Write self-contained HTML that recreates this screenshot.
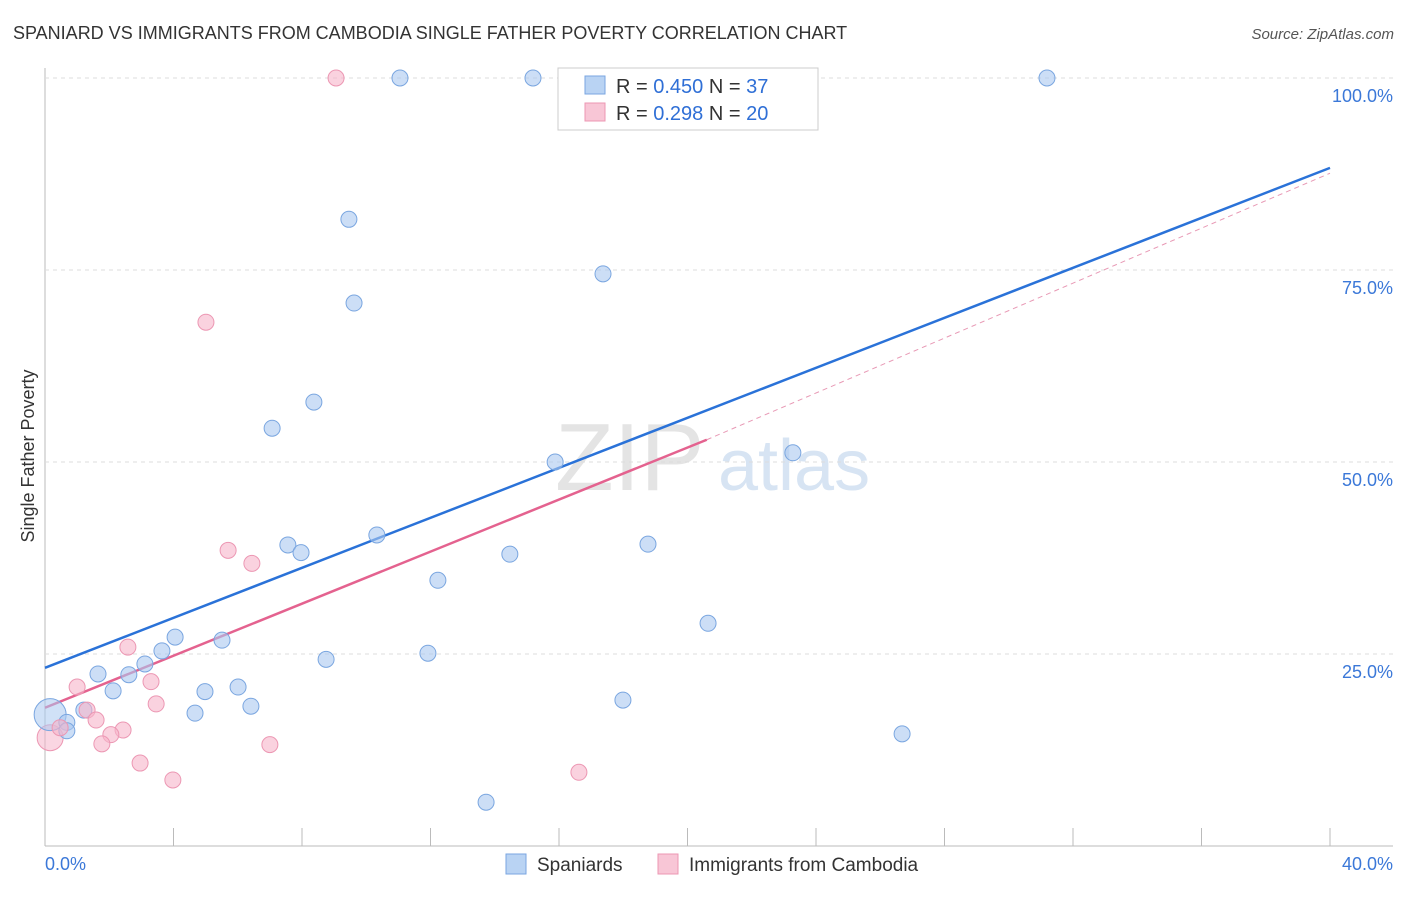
<!DOCTYPE html>
<html><head><meta charset="utf-8"><style>
body{margin:0;background:#fff;font-family:"Liberation Sans",sans-serif;}
svg text{font-family:"Liberation Sans",sans-serif;}
</style></head><body>
<svg id="chart" width="1406" height="892" viewBox="0 0 1406 892" xmlns="http://www.w3.org/2000/svg">
<text x="13" y="39" font-size="18" fill="#333">SPANIARD VS IMMIGRANTS FROM CAMBODIA SINGLE FATHER POVERTY CORRELATION CHART</text>
<text x="1394" y="39" font-size="15" fill="#555" text-anchor="end" font-style="italic">Source: ZipAtlas.com</text>
<text transform="translate(34,456) rotate(-90)" font-size="18" fill="#333" text-anchor="middle">Single Father Poverty</text>
<g>
<text x="555" y="490" font-size="96" fill="#e4e4e4" font-family="Liberation Serif,serif">ZIP</text>
<text x="718" y="490" font-size="72" fill="#d7e4f3">atlas</text>
</g>
<g id="grid"></g>
<g id="lines"></g>
<g id="points"></g>
<g>
<rect x="558" y="68" width="260" height="62" fill="#fff" stroke="#ccc"/>
<rect x="585" y="76" width="20" height="18" fill="#b9d3f3" stroke="#7aa6e0"/>
<text x="616" y="93" font-size="20" fill="#333">R = <tspan fill="#2f6fd6">0.450</tspan>   N = <tspan fill="#2f6fd6">37</tspan></text>
<rect x="585" y="103" width="20" height="18" fill="#f8c6d6" stroke="#ec97b3"/>
<text x="616" y="120" font-size="20" fill="#333">R =  <tspan fill="#2f6fd6">0.298</tspan>   N = <tspan fill="#2f6fd6">20</tspan></text>
</g>
<g>
<rect x="506" y="854" width="20" height="20" fill="#b9d3f3" stroke="#7aa6e0"/>
<text x="537" y="871" font-size="19" fill="#333">Spaniards</text>
<rect x="658" y="854" width="20" height="20" fill="#f8c6d6" stroke="#ec97b3"/>
<text x="689" y="871" font-size="19" fill="#333">Immigrants from Cambodia</text>
</g>
</svg>
<script>
const xTickLabels = ["0.0%","40.0%"];
const yTicks = [25,50,75,100];
const yTickLabels = ["25.0%","50.0%","75.0%","100.0%"];
const blueX = [11.05,15.19,16.97,31.19,9.46,17.37,9.62,8.37,7.07,15.88,23.28,10.33,7.56,7.97,14.47,18.77,12.23,20.64,4.05,5.51,3.64,3.11,8.75,11.92,1.65,2.61,2.12,6.01,4.98,6.41,4.67,17.99,1.21,0.68,0.68,26.68,13.73];
const blueY = [100,100,100,100,81.6,74.5,70.7,57.8,54.4,50.0,51.2,40.5,39.2,38.2,38.0,39.3,34.6,29.0,27.2,26.8,25.4,23.7,24.3,25.1,22.4,22.3,20.2,20.7,20.1,18.2,17.3,19.0,17.7,16.1,15.0,14.6,5.7];
const pinkX = [9.06,5.01,5.70,6.44,2.58,1.0,3.30,3.46,1.31,1.59,2.43,2.05,1.77,7.0,2.96,3.98,16.62,0.47];
const pinkY = [100,68.2,38.5,36.8,25.9,20.7,21.4,18.5,17.7,16.4,15.1,14.5,13.3,13.2,10.8,8.6,9.6,15.4];
const bigBlue = [0.16,17.1];
const bigPink = [0.16,14.1];
const blueLine = [23.2,88.3];
const pinkLine = [18.0,52.9,20.6,87.6];
const NS="http://www.w3.org/2000/svg";
function sx(v){return 45+v/40*1285;}
function sy(v){return 846-v/100*768;}
function mk(tag,attrs,parent){const e=document.createElementNS(NS,tag);for(const k in attrs)e.setAttribute(k,attrs[k]);document.getElementById(parent).appendChild(e);return e;}
let e;
e=mk('line',{x1:45,y1:68,x2:45,y2:846,stroke:'#bbb'},'grid');


e=mk('line',{x1:45,y1:846,x2:1393,y2:846,stroke:'#bbb'},'grid');


for(let i=0;i<=10;i++){e=mk('line',{x1:sx(i*4),y1:828,x2:sx(i*4),y2:846,stroke:'#bbb'},'grid');

}
yTicks.forEach((t,i)=>{
e=mk('line',{x1:45,y1:sy(t),x2:1393,y2:sy(t),stroke:'#ddd','stroke-dasharray':'4,4'},'grid');


e=mk('text',{x:1393,y:sy(t)+24,'font-size':18,fill:'#3b78d8','text-anchor':'end'},'grid');
e.textContent=yTickLabels[i];


});
e=mk('text',{x:45,y:870,'font-size':18,fill:'#3b78d8'},'grid');e.textContent=xTickLabels[0];


e=mk('text',{x:1393,y:870,'font-size':18,fill:'#3b78d8','text-anchor':'end'},'grid');e.textContent=xTickLabels[1];


e=mk('line',{x1:sx(pinkLine[2]),y1:sy(pinkLine[1]),x2:sx(40),y2:sy(pinkLine[3]),stroke:'#e899b5','stroke-dasharray':'5,4','stroke-width':1},'lines');


e=mk('line',{x1:sx(0),y1:sy(blueLine[0]),x2:sx(40),y2:sy(blueLine[1]),stroke:'#2a72d8','stroke-width':2.5},'lines');


e=mk('line',{x1:sx(0),y1:sy(pinkLine[0]),x2:sx(pinkLine[2]),y2:sy(pinkLine[1]),stroke:'#e4628f','stroke-width':2.5},'lines');


e=mk('circle',{cx:sx(bigPink[0]),cy:sy(bigPink[1]),r:13,fill:'rgba(246,180,202,0.55)',stroke:'#ec97b3'},'points');


e=mk('circle',{cx:sx(bigBlue[0]),cy:sy(bigBlue[1]),r:16,fill:'rgba(170,200,240,0.55)',stroke:'#7aa6e0'},'points');


blueX.forEach((x,i)=>{e=mk('circle',{cx:sx(x),cy:sy(blueY[i]),r:8,fill:'rgba(170,200,240,0.6)',stroke:'#7aa6e0'},'points');

});
pinkX.forEach((x,i)=>{e=mk('circle',{cx:sx(x),cy:sy(pinkY[i]),r:8,fill:'rgba(246,180,202,0.6)',stroke:'#ec97b3'},'points');

});
</script>
</body></html>
